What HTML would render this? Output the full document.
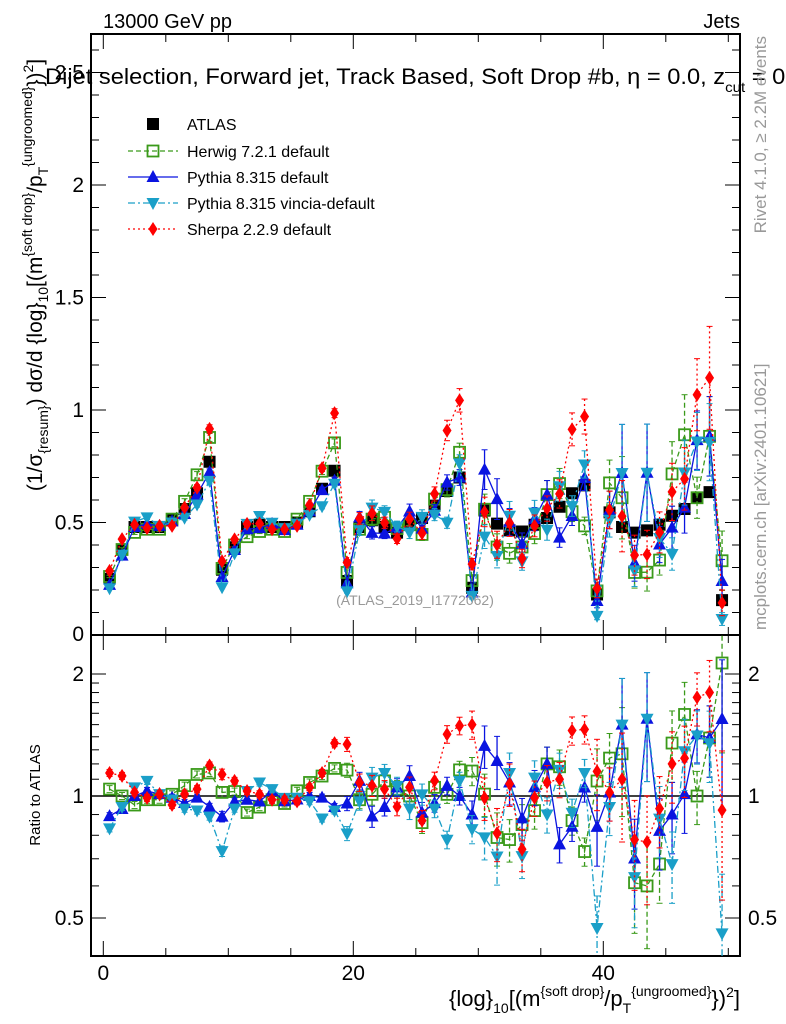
<!DOCTYPE html>
<html><head><meta charset="utf-8"><style>
html,body{margin:0;padding:0;background:#fff}
svg{display:block;font-family:"Liberation Sans",sans-serif}
</style></head><body>
<svg id="chart" width="786" height="1024" viewBox="0 0 786 1024" xmlns="http://www.w3.org/2000/svg">
<text x="103" y="28" font-size="20">13000 GeV pp</text>
<text x="740" y="28" font-size="20" text-anchor="end">Jets</text>
<g id="main"></g>
<g id="ratio"></g>
<text x="415" y="605" font-size="14" fill="#999" text-anchor="middle">(ATLAS_2019_I1772062)</text>
<text x="45" y="84" font-size="22" textLength="760" lengthAdjust="spacingAndGlyphs">Dijet selection, Forward jet, Track Based, Soft Drop #b, η = 0.0, z<tspan font-size="14" dy="8">cut</tspan><tspan dy="-8"> = 0.1</tspan></text>
<text transform="translate(42,275) rotate(-90)" font-size="21" text-anchor="middle">(1/σ<tspan font-size="14" dy="6">{resum}</tspan><tspan dy="-6">) dσ/d {log}</tspan><tspan font-size="14" dy="6">10</tspan><tspan dy="-6">[(m</tspan><tspan font-size="14" dy="-10">{soft drop}</tspan><tspan dy="10">/p</tspan><tspan font-size="14" dy="6">T</tspan><tspan font-size="14" dy="-16">{ungroomed}</tspan><tspan dy="10">})</tspan><tspan font-size="14" dy="-9">2</tspan><tspan dy="9">]</tspan></text>
<text transform="translate(40,795) rotate(-90)" font-size="15" text-anchor="middle">Ratio to ATLAS</text>
<text x="740" y="1006" font-size="22" text-anchor="end">{log}<tspan font-size="14" dy="7">10</tspan><tspan dy="-7">[(m</tspan><tspan font-size="14" dy="-10">{soft drop}</tspan><tspan dy="10">/p</tspan><tspan font-size="14" dy="7">T</tspan><tspan font-size="14" dy="-17">{ungroomed}</tspan><tspan dy="10">})</tspan><tspan font-size="14" dy="-9">2</tspan><tspan dy="9">]</tspan></text>
<text transform="translate(766,36) rotate(-90)" font-size="17" fill="#999" text-anchor="end">Rivet 4.1.0, ≥ 2.2M events</text>
<text transform="translate(766,630) rotate(-90)" font-size="17" fill="#999">mcplots.cern.ch [arXiv:2401.10621]</text>
</svg>
<script>
const dataVals=[0.25,0.38,0.48,0.48,0.48,0.51,0.56,0.63,0.77,0.29,0.39,0.48,0.49,0.48,0.48,0.50,0.55,0.65,0.73,0.24,0.48,0.51,0.48,0.455,0.49,0.52,0.575,0.64,0.70,0.21,0.553,0.495,0.465,0.46,0.49,0.52,0.57,0.63,0.665,0.18,0.545,0.48,0.455,0.465,0.49,0.53,0.56,0.61,0.635,0.155];
const herwigVals=[0.26,0.38,0.456,0.47,0.47,0.515,0.594,0.712,0.878,0.296,0.40,0.437,0.46,0.47,0.46,0.515,0.594,0.728,0.854,0.278,0.47,0.515,0.523,0.473,0.49,0.447,0.604,0.646,0.812,0.242,0.559,0.391,0.363,0.391,0.451,0.624,0.673,0.548,0.485,0.196,0.676,0.61,0.278,0.279,0.333,0.716,0.89,0.61,0.883,0.33];
const pythiaVals=[0.223,0.353,0.48,0.494,0.485,0.505,0.538,0.624,0.724,0.258,0.378,0.47,0.475,0.494,0.466,0.49,0.55,0.644,0.686,0.23,0.523,0.454,0.451,0.478,0.549,0.473,0.552,0.678,0.70,0.189,0.735,0.604,0.502,0.405,0.515,0.624,0.433,0.529,0.698,0.151,0.556,0.72,0.319,0.721,0.402,0.477,0.566,0.866,0.883,0.24];
const vinciaVals=[0.208,0.357,0.504,0.523,0.485,0.50,0.521,0.58,0.685,0.212,0.363,0.494,0.529,0.499,0.475,0.495,0.534,0.572,0.672,0.194,0.466,0.566,0.547,0.482,0.456,0.525,0.535,0.499,0.763,0.174,0.437,0.351,0.53,0.327,0.544,0.468,0.661,0.573,0.758,0.085,0.512,0.72,0.287,0.721,0.431,0.36,0.722,0.86,0.857,0.071];
const sherpaVals=[0.285,0.426,0.49,0.475,0.485,0.485,0.566,0.655,0.916,0.328,0.425,0.494,0.495,0.47,0.47,0.485,0.578,0.741,0.986,0.322,0.518,0.541,0.499,0.428,0.515,0.452,0.627,0.909,1.043,0.315,0.547,0.401,0.498,0.34,0.485,0.562,0.627,0.914,0.971,0.207,0.556,0.528,0.355,0.358,0.456,0.636,0.694,1.068,1.143,0.143];
const mcRelErr=[0.02,0.02,0.02,0.02,0.02,0.02,0.02,0.02,0.02,0.03,0.02,0.02,0.02,0.02,0.02,0.02,0.02,0.02,0.02,0.04,0.05,0.06,0.05,0.05,0.06,0.06,0.05,0.05,0.05,0.08,0.12,0.15,0.12,0.12,0.1,0.1,0.1,0.08,0.08,0.2,0.15,0.3,0.25,0.3,0.2,0.2,0.2,0.15,0.2,0.4];
const xTicks=[0,20,40];
const yTicks=[0.5,1,1.5,2,2.5];
const yTickLabels=["0.5","1","1.5","2","2.5"];
const rTicks=[0.5,1,2];
const rTickLabels=["0.5","1","2"];

const NS="http://www.w3.org/2000/svg";
const L=91,R=740,MT=34,MB=635,RB=956;
const X=v=>103.3+12.5*v;
const Y=v=>MB-225*v;
const YR=r=>796-122*Math.log2(r);
function mk(tag,at,parent){const e=document.createElementNS(NS,tag);for(const k in at)e.setAttribute(k,at[k]);parent.appendChild(e);return e;}
const main=document.getElementById('main'),ratio=document.getElementById('ratio'),svg=document.getElementById('chart');
const defs=mk('defs',{},svg);
const c1=mk('clipPath',{id:'cm'},defs);mk('rect',{x:L,y:MT,width:R-L,height:MB-MT},c1);
const c2=mk('clipPath',{id:'cr'},defs);mk('rect',{x:L,y:MB,width:R-L,height:RB-MB},c2);

let f=mk('rect',{x:L,y:MT,width:R-L,height:MB-MT,fill:'none',stroke:'#000','stroke-width':2},main);

f=mk('rect',{x:L,y:MB,width:R-L,height:RB-MB,fill:'none',stroke:'#000','stroke-width':2},ratio);

for(let v=0;v<=50;v+=5){const big=v%20===0;const x=X(v);
 for(const [t,b] of [[MT,MB],[MB,RB]]){mk('line',{x1:x,x2:x,y1:b,y2:b-(big?15:8),stroke:'#000'},main);mk('line',{x1:x,x2:x,y1:t,y2:t+(big?15:8),stroke:'#000'},main);}}
xTicks.forEach(v=>{const t=mk('text',{x:X(v),y:980,'font-size':21,'text-anchor':'middle'},main);t.textContent=v;
});
for(let i=1;i<=26;i++){const v=i/10,y=Y(v),big=i%5===0;
 mk('line',{x1:L,x2:L+(big?15:8),y1:y,y2:y,stroke:'#000'},main);mk('line',{x1:R,x2:R-(big?15:8),y1:y,y2:y,stroke:'#000'},main);}
yTicks.forEach((v,i)=>{const t=mk('text',{x:84,y:Y(v)+7,'font-size':21,'text-anchor':'end'},main);t.textContent=yTickLabels[i];
});
{const t=mk('text',{x:84,y:MB+6,'font-size':21,'text-anchor':'end'},main);t.textContent='0';
}
const rMinor=[0.5,0.6,0.7,0.8,0.9,1,1.1,1.2,1.3,1.4,1.5,1.6,1.7,1.8,1.9,2,2.5];
rMinor.forEach(r=>{const y=YR(r),big=rTicks.includes(r);
 mk('line',{x1:L,x2:L+(big?15:8),y1:y,y2:y,stroke:'#000'},ratio);mk('line',{x1:R,x2:R-(big?15:8),y1:y,y2:y,stroke:'#000'},ratio);});
rTicks.forEach((r,i)=>{let t=mk('text',{x:84,y:YR(r)+7,'font-size':21,'text-anchor':'end'},ratio);t.textContent=rTickLabels[i];

t=mk('text',{x:748,y:YR(r)+7,'font-size':21},ratio);t.textContent=rTickLabels[i];
});
mk('line',{x1:L,x2:R,y1:YR(1),y2:YR(1),stroke:'#000','stroke-width':1.5},ratio);

function marker(g,kind,x,y,col){
 let e;
 if(kind==='sq')e=mk('rect',{x:x-5.5,y:y-5.5,width:11,height:11,fill:'none',stroke:col,'stroke-width':1.8},g);
 else if(kind==='fsq')e=mk('rect',{x:x-6,y:y-6,width:12,height:12,fill:col},g);
 else if(kind==='up')e=mk('polygon',{points:`${x},${y-7} ${x-6.5},${y+5} ${x+6.5},${y+5}`,fill:col},g);
 else if(kind==='dn')e=mk('polygon',{points:`${x},${y+7} ${x-6.5},${y-5} ${x+6.5},${y-5}`,fill:col},g);
 else e=mk('polygon',{points:`${x},${y-7} ${x-4.5},${y} ${x},${y+7} ${x+4.5},${y}`,fill:col},g);
 return e;
}
const series=[
 {name:'herwig',vals:herwigVals,col:'#3a9a1a',dash:'5,3',m:'sq',label:'Herwig 7.2.1 default'},
 {name:'pythia',vals:pythiaVals,col:'#0a14e0',dash:'',m:'up',label:'Pythia 8.315 default'},
 {name:'vincia',vals:vinciaVals,col:'#1a9fc8',dash:'7,3,2,3',m:'dn',label:'Pythia 8.315 vincia-default'},
 {name:'sherpa',vals:sherpaVals,col:'#ff0000',dash:'2,3',m:'dia',label:'Sherpa 2.2.9 default'}];
function draw(parent,clip,yf,valsOf,errOf,s,nameSuffix){
 const g=mk('g',{'clip-path':`url(#${clip})`},parent);
 
 let d='';
 valsOf.forEach((v,i)=>{d+=(i?'L':'M')+X(i+0.5).toFixed(1)+','+yf(v).toFixed(1);});
 mk('path',{d,fill:'none',stroke:s.col,'stroke-width':1.3,'stroke-dasharray':s.dash},g);
 valsOf.forEach((v,i)=>{const x=X(i+0.5),e=errOf(i);
  mk('line',{x1:x,x2:x,y1:yf(v+e),y2:yf(Math.max(v-e,0.01)),stroke:s.col,'stroke-width':1.3,'stroke-dasharray':s.dash},g);
  mk('line',{x1:x-3,x2:x+3,y1:yf(v+e),y2:yf(v+e),stroke:s.col},g);
  mk('line',{x1:x-3,x2:x+3,y1:yf(Math.max(v-e,0.01)),y2:yf(Math.max(v-e,0.01)),stroke:s.col},g);
  const m=marker(g,s.m,x,yf(v),s.col);
  
  
 });
}
{const g=mk('g',{'clip-path':'url(#cm)'},main);
 
 dataVals.forEach((v,i)=>{const m=marker(g,'fsq',X(i+0.5),Y(v),'#000');
  
  });}
series.forEach(s=>{
 draw(main,'cm',Y,s.vals,i=>s.vals[i]*mcRelErr[i],s,'');
 const rv=s.vals.map((v,i)=>v/dataVals[i]);
 draw(ratio,'cr',r=>YR(Math.max(r,0.05)),rv,i=>rv[i]*mcRelErr[i],s,'-ratio');
});
const lg=mk('g',{},main);
const lys=[124,151,177,203,229];
{const m=marker(lg,'fsq',153,lys[0],'#000');
 const t=mk('text',{x:187,y:lys[0]+6,'font-size':16},lg);t.textContent='ATLAS';}
series.forEach((s,i)=>{const y=lys[i+1];
 mk('line',{x1:128,x2:178,y1:y,y2:y,stroke:s.col,'stroke-width':1.3,'stroke-dasharray':s.dash},lg);
 const m=marker(lg,s.m,153,y,s.col);
 const t=mk('text',{x:187,y:y+6,'font-size':16},lg);t.textContent=s.label;
 });
</script>
</body></html>
